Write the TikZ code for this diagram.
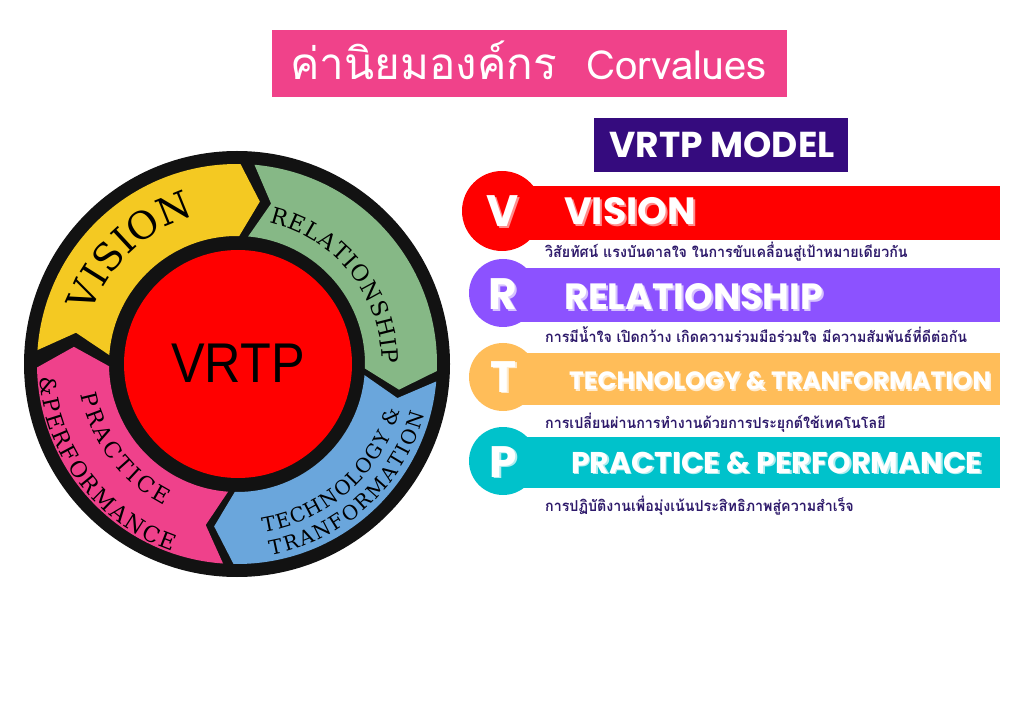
\documentclass[tikz,border=0pt]{standalone}
\usepackage{fontspec}
\usetikzlibrary{decorations.text}
\setmainfont{Liberation Sans}
\newfontfamily\thaifont[Script=Thai]{Loma}
\newfontfamily\popfont{Poppins}
\newfontfamily\slabfont{DejaVu Serif}
\newfontfamily\arialfont{Liberation Sans}
\definecolor{titlepink}{HTML}{F0428A}
\definecolor{modelpurple}{HTML}{350B7E}
\definecolor{ringblack}{HTML}{121212}
\definecolor{ringyellow}{HTML}{F4C922}
\definecolor{ringgreen}{HTML}{86B886}
\definecolor{ringblue}{HTML}{6AA6DC}
\definecolor{ringpink}{HTML}{EF418B}
\definecolor{vred}{HTML}{FF0000}
\definecolor{rpurple}{HTML}{8C52FF}
\definecolor{torange}{HTML}{FFBD59}
\definecolor{pteal}{HTML}{00C2CB}
\definecolor{subpurple}{HTML}{2E1A6B}
\newcommand{\ringseg}[3]{%
  \fill[#3] (#1:200) arc[start angle=#1, end angle=#2, radius=200]
    -- ({#2-7}:164) -- (#2:128) arc[start angle=#2, end angle=#1, radius=128]
    -- ({#1-7}:164) -- cycle;}
\newcommand{\subtxt}[1]{\scalebox{0.95}[1]{#1}}
\tikzset{
  barletter/.style={font=\popfont\bfseries\fontsize{44}{44}\selectfont, text=white, anchor=base, inner sep=0pt},
  barword/.style={font=\popfont\bfseries\fontsize{#1}{#1}\selectfont, text=white, anchor=base west, inner sep=0pt},
  subline/.style={font=\thaifont\bfseries\fontsize{15}{15}\selectfont, text=subpurple, anchor=base west, inner sep=0pt},
  ringtext/.style={decorate, decoration={text along path, text align=fit to path, text={#1}}}
}
\begin{document}
\begin{tikzpicture}[x=1pt,y=1pt]
\useasboundingbox (0,0) rectangle (1024,726);
\fill[white] (0,0) rectangle (1024,726);
% title
\fill[titlepink] (272,629) rectangle (787,696);
\node[anchor=base west, text=white, inner sep=0pt, font=\thaifont] (title) at (290,646) {{\fontsize{44}{44}\selectfont ค่านิยมองค์กร}\hspace{30pt}{\fontsize{40}{40}\selectfont Corvalues}};
% model label
\fill[modelpurple] (594,554) rectangle (848,608);
\node[anchor=base, text=white, inner sep=0pt, font=\popfont\bfseries\fontsize{36}{36}\selectfont] (model) at (722,568) {VRTP MODEL};
% ring
\begin{scope}[shift={(237,362)}]
  \fill[ringblack] (0,0) circle[radius=213];
  \ringseg{176}{89}{ringyellow}
  \ringseg{85}{-2}{ringgreen}
  \ringseg{-5}{-91}{ringblue}
  \ringseg{-94}{-179}{ringpink}
  \fill[vred] (1,0) circle[radius=114];
  \node[anchor=base, inner sep=0pt, font=\arialfont\fontsize{56}{56}\selectfont] (core) at (1,-19) {\scalebox{0.9}[1]{VRTP}};
  \path[ringtext={|\slabfont\fontsize{38}{38}\selectfont|VISION}] (161:154) arc[start angle=161, end angle=106, radius=154];
  \path[ringtext={|\slabfont\fontsize{22.5}{22.5}\selectfont|RELATIONSHIP}] (77:145) arc[start angle=77, end angle=0, radius=145];
  \path[ringtext={|\slabfont\fontsize{20}{20}\selectfont|TECHNOLOGY {\&}}] (-81:170) arc[start angle=-81, end angle=-16, radius=170];
  \path[ringtext={|\slabfont\fontsize{20}{20}\selectfont|TRANFORMATION}] (-80:194) arc[start angle=-80, end angle=-15, radius=194];
  \path[ringtext={|\slabfont\fontsize{22}{22}\selectfont|PRACTICE}] (191:159) arc[start angle=191, end angle=243, radius=159];
  \path[ringtext={|\slabfont\fontsize{22}{22}\selectfont|{\&}PERFORMANCE}] (184:198) arc[start angle=184, end angle=251, radius=198];
\end{scope}
% row V
\fill[vred] (502,486) rectangle (1000,540);
\fill[vred] (502,515) circle[radius=40];
\node[barletter, text=vred!45!white] (vlettershadow) at (505,497.5) {V};
\node[barletter] (vletter) at (503,499) {V};
\node[barword=38, text=vred!45!white] (vwordshadow) at (566,499.5) {VISION};
\node[barword=38] (vword) at (564,501) {VISION};
\node[subline] (vsub) at (545,468) {\subtxt{วิสัยทัศน์ แรงบันดาลใจ ในการขับเคลื่อนสู่เป้าหมายเดียวกัน}};
% row R
\fill[rpurple] (503,404) rectangle (1000,458);
\fill[rpurple] (503,433) circle[radius=34];
\node[barletter, text=rpurple!35!white] (rlettershadow) at (505,414.5) {R};
\node[barletter] (rletter) at (503,416) {R};
\node[barword=36.5, text=rpurple!35!white] (rwordshadow) at (566,414.5) {RELATIONSHIP};
\node[barword=36.5] (rword) at (564,416) {RELATIONSHIP};
\node[subline] (rsub) at (545,383) {\subtxt{การมีน้ำใจ เปิดกว้าง เกิดความร่วมมือร่วมใจ มีความสัมพันธ์ที่ดีต่อกัน}};
% row T
\fill[torange] (503,321) rectangle (1000,373);
\fill[torange] (503,349) circle[radius=34];
\node[barletter, text=torange!30!white] (tlettershadow) at (505,332.5) {T};
\node[barletter] (tletter) at (503,334) {T};
\node[barword=25, text=torange!30!white] (twordshadow) at (570.5,334.5) {TECHNOLOGY \& TRANFORMATION};
\node[barword=25] (tword) at (569,336) {TECHNOLOGY \& TRANFORMATION};
\node[subline] (tsub) at (545,298) {\subtxt{การเปลี่ยนผ่านการทำงานด้วยการประยุกต์ใช้เทคโนโลยี}};
% row P
\fill[pteal] (503,238) rectangle (1000,289);
\fill[pteal] (503,265) circle[radius=34];
\node[barletter, text=pteal!30!white] (plettershadow) at (505,247.5) {P};
\node[barletter] (pletter) at (503,249) {P};
\node[barword=30, text=pteal!30!white] (pwordshadow) at (572.5,251.5) {PRACTICE \& PERFORMANCE};
\node[barword=30] (pword) at (571,253) {PRACTICE \& PERFORMANCE};
\node[subline] (psub) at (545,215) {\subtxt{การปฏิบัติงานเพื่อมุ่งเน้นประสิทธิภาพสู่ความสำเร็จ}};
\end{tikzpicture}
\end{document}
